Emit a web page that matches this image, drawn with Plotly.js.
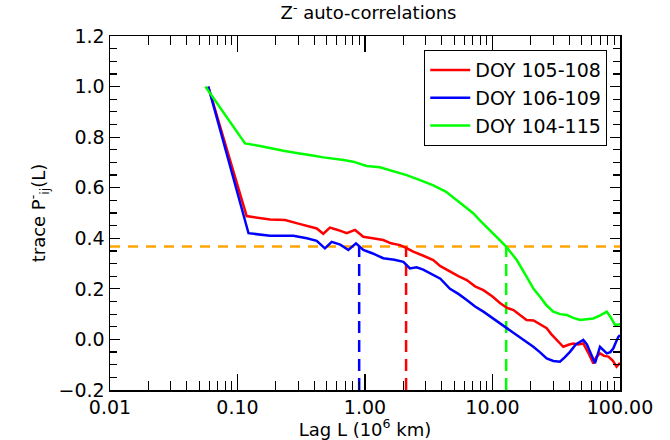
<!DOCTYPE html>
<html>
<head>
<meta charset="utf-8">
<script src="https://cdn.plot.ly/plotly-3.0.1.min.js"></script>
<style>html,body{margin:0;padding:0;background:#fff;}#chart{width:670px;height:440px;}</style>
</head>
<body>
<div id="chart"></div>
<script>
// ---- data ----
const seriesNames = ['DOY 105-108', 'DOY 106-109', 'DOY 104-115'];
const seriesColors = ['#ff0000', '#0000ff', '#00ff00'];

const lagRed = [0.059,0.118,0.18,0.236,0.30,0.418,0.471,0.531,0.62,0.718,0.835,0.97,1.15,1.39,1.6,1.88,2.1,2.39,2.9,3.43,3.9,4.64,5.4,6.28,7.3,8.48,10,11.5,13,14.6,16.5,18.5,21,23.5,26.6,29,31.9,35.9,40,43,47,51.5,56,61.8,65,69.7,75,81,88,94,100];
const corrRed = [1.00,0.488,0.474,0.472,0.458,0.439,0.418,0.442,0.432,0.42,0.433,0.406,0.40,0.393,0.38,0.373,0.362,0.347,0.33,0.314,0.29,0.268,0.25,0.235,0.21,0.195,0.17,0.143,0.125,0.116,0.095,0.077,0.075,0.06,0.044,0.02,-0.002,-0.029,-0.02,-0.016,-0.02,-0.016,-0.05,-0.095,-0.07,-0.055,-0.065,-0.068,-0.085,-0.108,-0.093];

const lagBlue = [0.059,0.122,0.18,0.243,0.274,0.35,0.418,0.485,0.548,0.64,0.74,0.85,0.97,1.15,1.39,1.7,2.0,2.25,2.54,2.86,3.43,3.9,4.64,5.4,6.28,7.3,8.48,10,11.5,13.3,15.5,18,20.9,23.5,26.6,30,33.8,37,40.5,45,51.5,55,58.2,63.7,69.7,74,78.7,84,88.7,93,97,100];
const corrBlue = [1.00,0.42,0.41,0.409,0.41,0.40,0.39,0.36,0.386,0.375,0.354,0.38,0.354,0.34,0.321,0.315,0.307,0.281,0.285,0.276,0.255,0.24,0.2,0.18,0.156,0.13,0.11,0.085,0.064,0.04,0.017,-0.005,-0.029,-0.05,-0.075,-0.085,-0.088,-0.07,-0.049,-0.02,-0.002,-0.02,-0.049,-0.094,-0.029,-0.04,-0.055,-0.05,-0.035,-0.01,0.01,0.017];

const lagGreen = [0.056,0.1146,0.15,0.18,0.229,0.29,0.349,0.40,0.471,0.564,0.68,0.809,1.03,1.31,1.7,2.12,2.70,3.4,4.3,5.24,6.1,7.06,8.0,9.0,10.8,12.8,15.5,18.5,21,23.6,26.5,30,34,38.2,43,48.6,55,61.8,70,78.7,84,91.5,100];
const corrGreen = [1.00,0.775,0.765,0.756,0.746,0.737,0.729,0.726,0.72,0.716,0.71,0.703,0.686,0.681,0.665,0.65,0.63,0.61,0.585,0.551,0.525,0.499,0.47,0.446,0.405,0.367,0.314,0.248,0.20,0.169,0.135,0.11,0.10,0.097,0.085,0.077,0.08,0.083,0.095,0.11,0.09,0.057,0.06];

// correlation lengths (where each curve crosses 1/e)
const corrLengths = [2.1, 0.90, 12.8];
const eFold = 0.368;

const xTickVals = [0.01, 0.1, 1, 10, 100];
const xTickLabels = ['0.01', '0.10', '1.00', '10.00', '100.00'];
const yTickVals = [-0.2, 0, 0.2, 0.4, 0.6, 0.8, 1.0, 1.2];
const yTickLabels = ['\u22120.2', '0.0', '0.2', '0.4', '0.6', '0.8', '1.0', '1.2'];

// ---- build ----
const lags = [lagRed, lagBlue, lagGreen];
const corrs = [corrRed, corrBlue, corrGreen];
const xMinorVals = [];
for (let e = -2; e < 2; e++) for (let d = 2; d <= 9; d++) xMinorVals.push(d * Math.pow(10, e));

const traces = [];
traces.push({x: [0.01, 100], y: [eFold, eFold], mode: 'lines', showlegend: false,
  line: {color: '#ffa500', width: 2.5, dash: '10px,8px'}, hoverinfo: 'skip'});
for (let i = 0; i < 3; i++) {
  traces.push({x: [corrLengths[i], corrLengths[i]], y: [-0.2, eFold], mode: 'lines', showlegend: false,
    line: {color: seriesColors[i], width: 2.5, dash: '12px,7px'}, hoverinfo: 'skip'});
}
for (let i = 0; i < 3; i++) {
  traces.push({x: lags[i], y: corrs[i], mode: 'lines', name: seriesNames[i],
    line: {color: seriesColors[i], width: 2.5}});
}

const fam = 'DejaVu Sans, sans-serif';
const layout = {
  width: 670, height: 440,
  margin: {l: 110, r: 50, t: 36, b: 50},
  paper_bgcolor: '#fff', plot_bgcolor: '#fff',
  font: {family: fam, size: 17, color: '#000'},
  title: {text: 'Z<sup>-</sup> auto-correlations', x: 0.55, xanchor: 'center', y: 0.985, yanchor: 'top',
    font: {family: fam, size: 18, color: '#000'}},
  xaxis: {type: 'log', range: [-2, 2], tickmode: 'array', tickvals: xTickVals, ticktext: xTickLabels,
    ticks: 'inside', ticklen: 16, tickwidth: 1.2, tickcolor: '#000',
    minor: {tickmode: 'array', tickvals: xMinorVals, ticks: 'inside', ticklen: 9, tickwidth: 1.2, tickcolor: '#000', showgrid: false},
    showline: true, linecolor: '#000', linewidth: 1.5, mirror: 'allticks', showgrid: false, zeroline: false,
    tickfont: {family: fam, size: 19},
    title: {text: 'Lag L (10<sup>6</sup> km)', standoff: 3, font: {family: fam, size: 18}}},
  yaxis: {range: [-0.2, 1.2], tickmode: 'array', tickvals: yTickVals, ticktext: yTickLabels,
    ticks: 'inside', ticklen: 10, tickwidth: 1.2, tickcolor: '#000',
    minor: {dtick: 0.05, ticks: 'inside', ticklen: 7, tickwidth: 1.2, tickcolor: '#000', showgrid: false},
    showline: true, linecolor: '#000', linewidth: 1.5, mirror: 'allticks', showgrid: false, zeroline: false,
    tickfont: {family: fam, size: 19},
    title: {text: 'trace P<sup>-</sup><sub>ij</sub>(L)', standoff: 8, font: {family: fam, size: 18}}},
  legend: {x: 0.975, xanchor: 'right', y: 0.96, yanchor: 'top', bgcolor: '#fff', bordercolor: '#000', borderwidth: 1,
    font: {family: fam, size: 19, color: '#000'}, tracegroupgap: 0, itemwidth: 40},
  showlegend: true
};

Plotly.newPlot('chart', traces, layout, {displayModeBar: false, staticPlot: true});
</script>
</body>
</html>
